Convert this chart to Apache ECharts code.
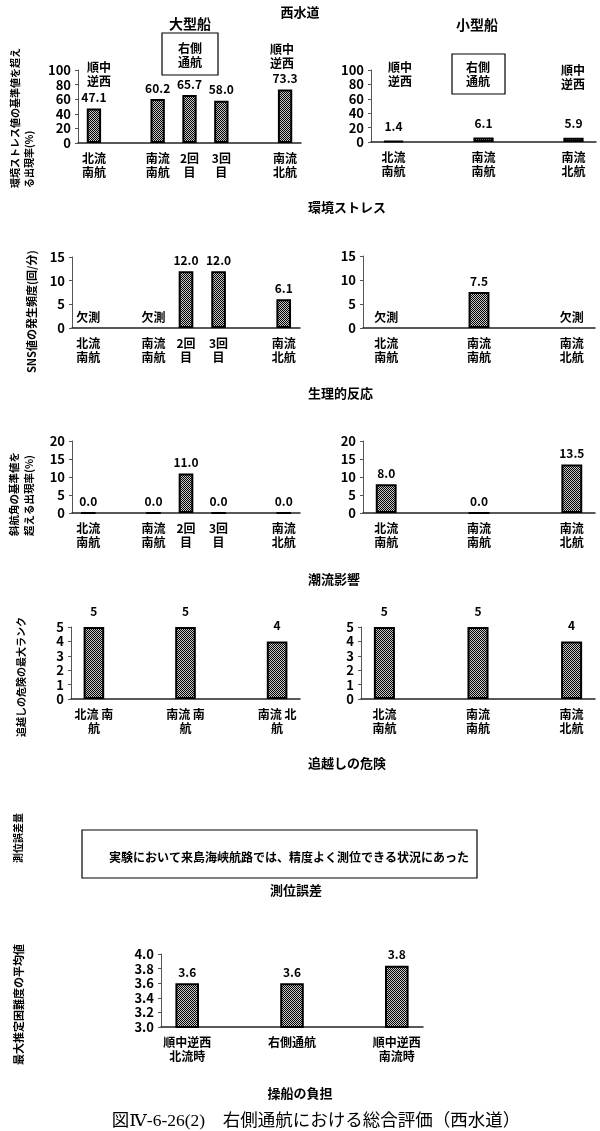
<!DOCTYPE html>
<html><head><meta charset="utf-8">
<script src="https://cdn.jsdelivr.net/npm/echarts@6/dist/echarts.min.js"></script>
<style>html,body{margin:0;padding:0;background:#fff}#c{width:600px;height:1131px}</style>
</head><body><div id="c"></div>
<script>
// ---------- data ----------
const MISSING = '欠測';
const catsLarge = ['北流\n南航', '', '南流\n南航', '2回\n目', '3回\n目', '', '南流\n北航'];
const catsSmall = ['北流\n南航', '', '南流\n南航', '', '南流\n北航'];
const catsOvertakeLarge = ['北流 南\n航', '', '南流 南\n航', '', '南流 北\n航'];
const catsOvertakeSmall = ['北流\n南航', '', '南流\n南航', '', '南流\n北航'];
const catsLoad = ['順中逆西\n北流時', '', '右側通航', '', '順中逆西\n南流時'];

const stressLarge = [47.1, null, 60.2, 65.7, 58.0, null, 73.3];
const stressSmall = [1.4, null, 6.1, null, 5.9];
const snsLarge = [MISSING, null, MISSING, 12.0, 12.0, null, 6.1];
const snsSmall = [MISSING, null, 7.5, null, MISSING];
const driftLarge = [0.0, null, 0.0, 11.0, 0.0, null, 0.0];
const driftSmall = [8.0, null, 0.0, null, 13.5];
const overtakeLarge = [5, null, 5, null, 4];
const overtakeSmall = [5, null, 5, null, 4];
const loadValues = [3.6, null, 3.6, null, 3.84];

const axisStress = {min: 0, max: 100, interval: 20};
const axisSns = {min: 0, max: 15, interval: 5};
const axisDrift = {min: 0, max: 20, interval: 5};
const axisOvertake = {min: 0, max: 5, interval: 1};
const axisLoad = {min: 3.0, max: 4.0, interval: 0.2};

// ---------- styling / layout ----------
const FONT = '"Noto Sans CJK JP", "Noto Sans", sans-serif';
const pc = document.createElement('canvas');
pc.width = 4; pc.height = 4;
const pctx = pc.getContext('2d');
pctx.fillStyle = '#c8c8c8'; pctx.fillRect(0, 0, 4, 4);
pctx.fillStyle = '#000';
for (let y = 0; y < 4; y++) for (let x = 0; x < 4; x++) if ((x + y) % 2 === 0) pctx.fillRect(x, y, 1, 1);
const barFill = {image: pc, repeat: 'repeat'};

const panels = [
  {rect: [78, 70, 223, 73], cats: catsLarge, data: stressLarge, axis: axisStress, dec: 1, dist: 5},
  {rect: [371, 70, 225, 72], cats: catsSmall, data: stressSmall, axis: axisStress, dec: 1, dist: 8},
  {rect: [72, 257, 228, 71], cats: catsLarge, data: snsLarge, axis: axisSns, dec: 1, dist: 5},
  {rect: [363, 256, 232, 72], cats: catsSmall, data: snsSmall, axis: axisSns, dec: 1, dist: 5},
  {rect: [72, 441, 228, 72], cats: catsLarge, data: driftLarge, axis: axisDrift, dec: 1, dist: 5},
  {rect: [363, 441, 232, 72], cats: catsSmall, data: driftSmall, axis: axisDrift, dec: 1, dist: 5},
  {rect: [71, 627, 229, 72], cats: catsOvertakeLarge, data: overtakeLarge, axis: axisOvertake, dec: 0, dist: 10},
  {rect: [361, 627, 234, 72], cats: catsOvertakeSmall, data: overtakeSmall, axis: axisOvertake, dec: 0, dist: 10},
  {rect: [161, 954, 262, 73], cats: catsLoad, data: loadValues, axis: axisLoad, dec: 1, dist: 5}
];

const grids = [], xAxes = [], yAxes = [], series = [];
panels.forEach((p, i) => {
  grids.push({left: p.rect[0], top: p.rect[1], width: p.rect[2], height: p.rect[3], containLabel: false});
  xAxes.push({
    type: 'category', gridIndex: i, data: p.cats,
    axisLine: {lineStyle: {color: '#222', width: 1.5}},
    axisTick: {inside: true, length: 3, lineStyle: {color: '#444'}},
    axisLabel: {interval: 0, fontSize: 12, lineHeight: 14, fontWeight: 'bold', color: '#000', fontFamily: FONT, margin: 8}
  });
  yAxes.push({
    type: 'value', gridIndex: i, min: p.axis.min, max: p.axis.max, interval: p.axis.interval,
    splitLine: {show: false},
    axisLine: {show: true, lineStyle: {color: '#555', width: 1}},
    axisTick: {show: true, length: 3, lineStyle: {color: '#555'}},
    axisLabel: {fontSize: 13, fontWeight: 'bold', color: '#000', fontFamily: FONT, margin: 7,
      formatter: v => p.dec && p.axis.max < 10 ? v.toFixed(1) : String(Math.round(v * 10) / 10)}
  });
  series.push({
    type: 'bar', xAxisIndex: i, yAxisIndex: i, barWidth: '45%',
    itemStyle: {color: barFill, borderColor: '#000', borderWidth: 2},
    label: {show: true, position: 'top', distance: p.dist, fontSize: 12, fontWeight: 'bold', color: '#000', fontFamily: FONT,
      formatter: q => typeof q.value === 'number' ? q.value.toFixed(p.dec) : ''},
    data: p.data.map(v => {
      if (v === null) return '-';
      if (v === MISSING) return {value: 0, itemStyle: {borderWidth: 0, color: 'transparent'}, label: {formatter: MISSING}};
      return v;
    }),
    animation: false
  });
});

function txt(str, x, y, size, align, extra) {
  return Object.assign({type: 'text', x: x, y: y, z: 10, style: Object.assign({
    text: str, fontSize: size, fontWeight: 'bold', fontFamily: FONT, fill: '#000',
    align: align || 'center', verticalAlign: 'middle', textAlign: align || 'center', textVerticalAlign: 'middle',
    lineHeight: size + 2
  }, extra || {})});
}
function vtxt(str, x, yBottom, size) {
  return {type: 'text', x: x, y: yBottom, rotation: Math.PI / 2, z: 10, style: {
    text: str, fontSize: size, fontWeight: 'bold', fontFamily: FONT, fill: '#000',
    align: 'left', verticalAlign: 'top', textAlign: 'left', textVerticalAlign: 'top', lineHeight: size + 4}};
}
function box(x, y, w, h) {
  return {type: 'rect', z: 10, shape: {x: x, y: y, width: w, height: h}, style: {fill: 'none', stroke: '#000', lineWidth: 1.2}};
}

const graphics = [
  txt('西水道', 300, 12, 13),
  txt('大型船', 190, 24, 14),
  txt('小型船', 477, 25, 14),
  box(162, 33, 56, 42), txt('右側\n通航', 190, 55, 12),
  box(452, 54, 53, 40), txt('右側\n通航', 478, 74, 12),
  txt('順中\n逆西', 99, 74, 12),
  txt('順中\n逆西', 282, 56, 12),
  txt('順中\n逆西', 400, 74, 12),
  txt('順中\n逆西', 573, 77, 12),
  txt('環境ストレス', 308, 207, 13, 'left'),
  txt('生理的反応', 308, 393, 13, 'left'),
  txt('潮流影響', 308, 579, 13, 'left'),
  txt('追越しの危険', 308, 763, 13, 'left'),
  box(82, 830, 395, 48),
  txt('実験において来島海峡航路では、精度よく測位できる状況にあった', 289, 857, 12),
  txt('測位誤差', 296, 890, 13),
  txt('操船の負担', 300, 1093, 13),
  txt('図Ⅳ-6-26(2)　右側通航における総合評価（西水道）', 316, 1121, 17.5, 'center',
      {fontWeight: 'normal', fontFamily: '"Liberation Serif", "DejaVu Serif", "Noto Sans CJK JP", serif'}),
  vtxt('環境ストレス値の基準値を超え\nる出現率(%)', 8, 188, 10),
  vtxt('SNS値の発生頻度(回/分)', 24, 373, 11),
  vtxt('斜航角の基準値を\n超える出現率(%)', 7, 536, 10.5),
  vtxt('追越しの危険の最大ランク', 14, 737, 10),
  vtxt('測位誤差量', 11, 863, 10),
  vtxt('最大推定困難度の平均値', 11, 1065, 11)
];

const chart = echarts.init(document.getElementById('c'), null, {renderer: 'canvas'});
chart.setOption({
  backgroundColor: '#fff',
  animation: false,
  grid: grids, xAxis: xAxes, yAxis: yAxes, series: series,
  graphic: {elements: graphics}
});
</script></body></html>
